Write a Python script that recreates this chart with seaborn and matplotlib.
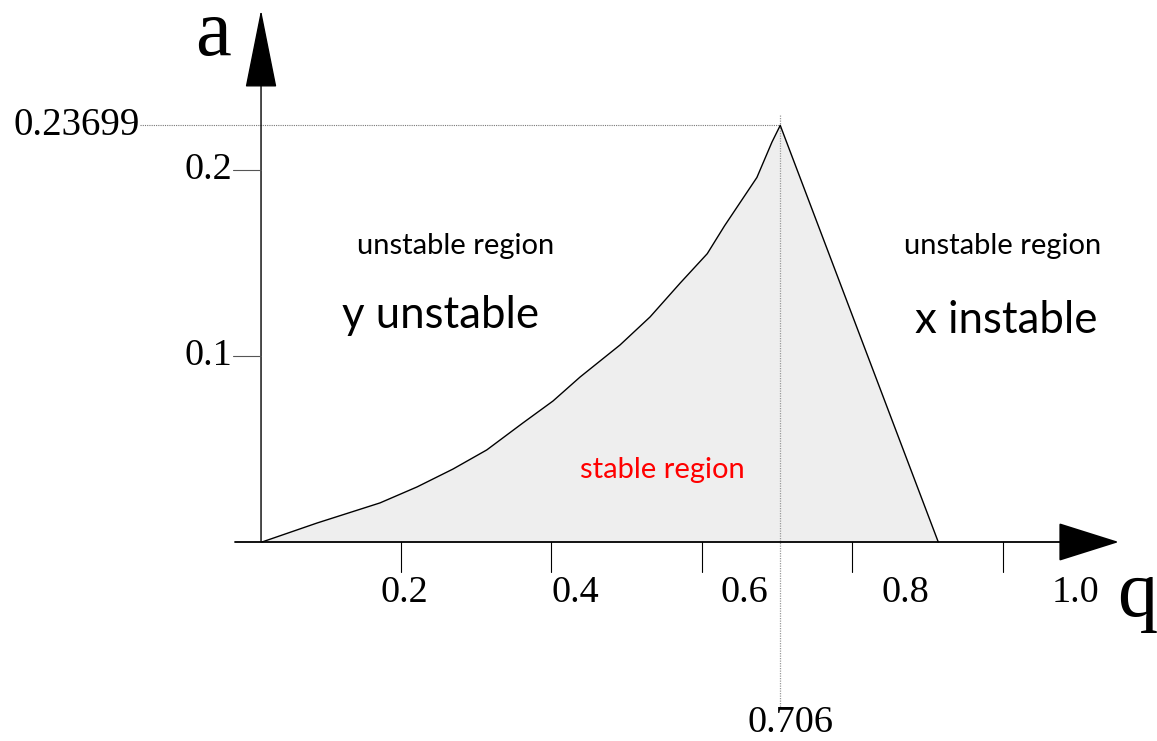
import matplotlib
matplotlib.use("Agg")
import matplotlib.pyplot as plt
import seaborn as sns
import pandas as pd

# ---- data ----
q_left = [0.0153, 0.0884, 0.172, 0.2213, 0.269, 0.314, 0.362, 0.402, 0.438, 0.491, 0.531,
          0.571, 0.607, 0.630, 0.673, 0.693, 0.704]
a_left = [0.0, 0.0102, 0.0210, 0.0296, 0.0392, 0.0495, 0.0640, 0.0758, 0.0887, 0.1059, 0.1210,
          0.1392, 0.155, 0.170, 0.196, 0.215, 0.224]
q_right = [0.704, 0.914]
a_right = [0.224, 0.0]

peak_q = 0.704
peak_a = 0.224
peak_q_label = "0.706"
peak_a_label = "0.23699"

x_ticks = [0.2, 0.4, 0.6, 0.8, 1.0]
x_tick_label_pos = [0.205, 0.432, 0.657, 0.870, 1.097]
x_tick_labels = ["0.2", "0.4", "0.6", "0.8", "1.0"]
y_ticks = [0.1, 0.2]
y_tick_labels = ["0.1", "0.2"]

region_texts = ["unstable region", "y unstable", "unstable region", "x instable", "stable region"]

sns.set_theme(style="white")
plt.rcParams["text.color"] = "black"
serif = ["Liberation Serif", "DejaVu Serif"]
sans = ["Lato", "DejaVu Sans"]

fig = plt.figure(figsize=(11.57, 7.41), dpi=100)
ax = fig.add_axes([0, 0, 1, 1])
ax.set_xlim(-0.3329, 1.2047)
ax.set_ylim(-0.10699, 0.2914)
ax.axis("off")

q_all = q_left + q_right[1:]
a_all = a_left + a_right[1:]
df = pd.DataFrame({"q": q_all, "a": a_all})
ax.fill_between(df["q"], df["a"], 0, color="#eeeeee", lw=0, zorder=1)
sns.lineplot(data=df, x="q", y="a", sort=False, color="black", lw=1.0, ax=ax, zorder=3)

# dotted guide lines
ax.plot([-0.147, peak_q], [peak_a, peak_a], color="#777777", lw=0.8, ls=(0, (1, 1)), zorder=2)
ax.plot([peak_q, peak_q], [0.2296, -0.0892], color="#999999", lw=0.9, ls=(0, (1, 1)), zorder=2)

# axes with arrows
ax.annotate("", xy=(1.154, 0), xytext=(-0.0206, 0),
            arrowprops=dict(arrowstyle="-|>,head_length=40,head_width=12.6", mutation_scale=1,
                            color="black", lw=1.3, shrinkA=0, shrinkB=0), zorder=4)
ax.annotate("", xy=(0.014, 0.286), xytext=(0.014, 0),
            arrowprops=dict(arrowstyle="-|>,head_length=52,head_width=10.4", mutation_scale=1,
                            color="black", lw=1.0, shrinkA=0, shrinkB=0), zorder=4)

# ticks
for t in x_ticks:
    ax.plot([t, t], [0, -0.0161], color="black", lw=0.8, zorder=4)
for pos, lab in zip(x_tick_label_pos, x_tick_labels):
    ax.text(pos, -0.0274, lab, ha="center", va="center", fontsize=27.5, family=serif)
for t, lab in zip(y_ticks, y_tick_labels):
    ax.plot([-0.0236, 0.014], [t, t], color="#555555", lw=0.8, zorder=4)
    ax.text(-0.0236, t, lab, ha="right", va="center", fontsize=27.5, family=serif)

ax.text(-0.147, peak_a, peak_a_label, ha="right", va="center", fontsize=28, family=serif)
ax.text(0.717, -0.0973, peak_q_label, ha="center", va="center", fontsize=27.5, family=serif)

# axis names
ax.text(-0.0498, 0.2618, "a", ha="center", va="baseline", fontsize=58, family=serif)
ax.text(1.1515, -0.0398, "q", ha="left", va="baseline", fontsize=58, family=serif)

# region labels
ax.text(0.272, 0.159, region_texts[0], ha="center", va="center", fontsize=21, family=sans)
ax.text(0.253, 0.122, region_texts[1], ha="center", va="center", fontsize=31.5, family=sans)
ax.text(1.000, 0.159, region_texts[2], ha="center", va="center", fontsize=21, family=sans)
ax.text(1.004, 0.119, region_texts[3], ha="center", va="center", fontsize=31.5, family=sans)
ax.text(0.547, 0.0387, region_texts[4], ha="center", va="center", fontsize=21, family=sans, color="red")

fig.savefig("out.png", dpi=100)
